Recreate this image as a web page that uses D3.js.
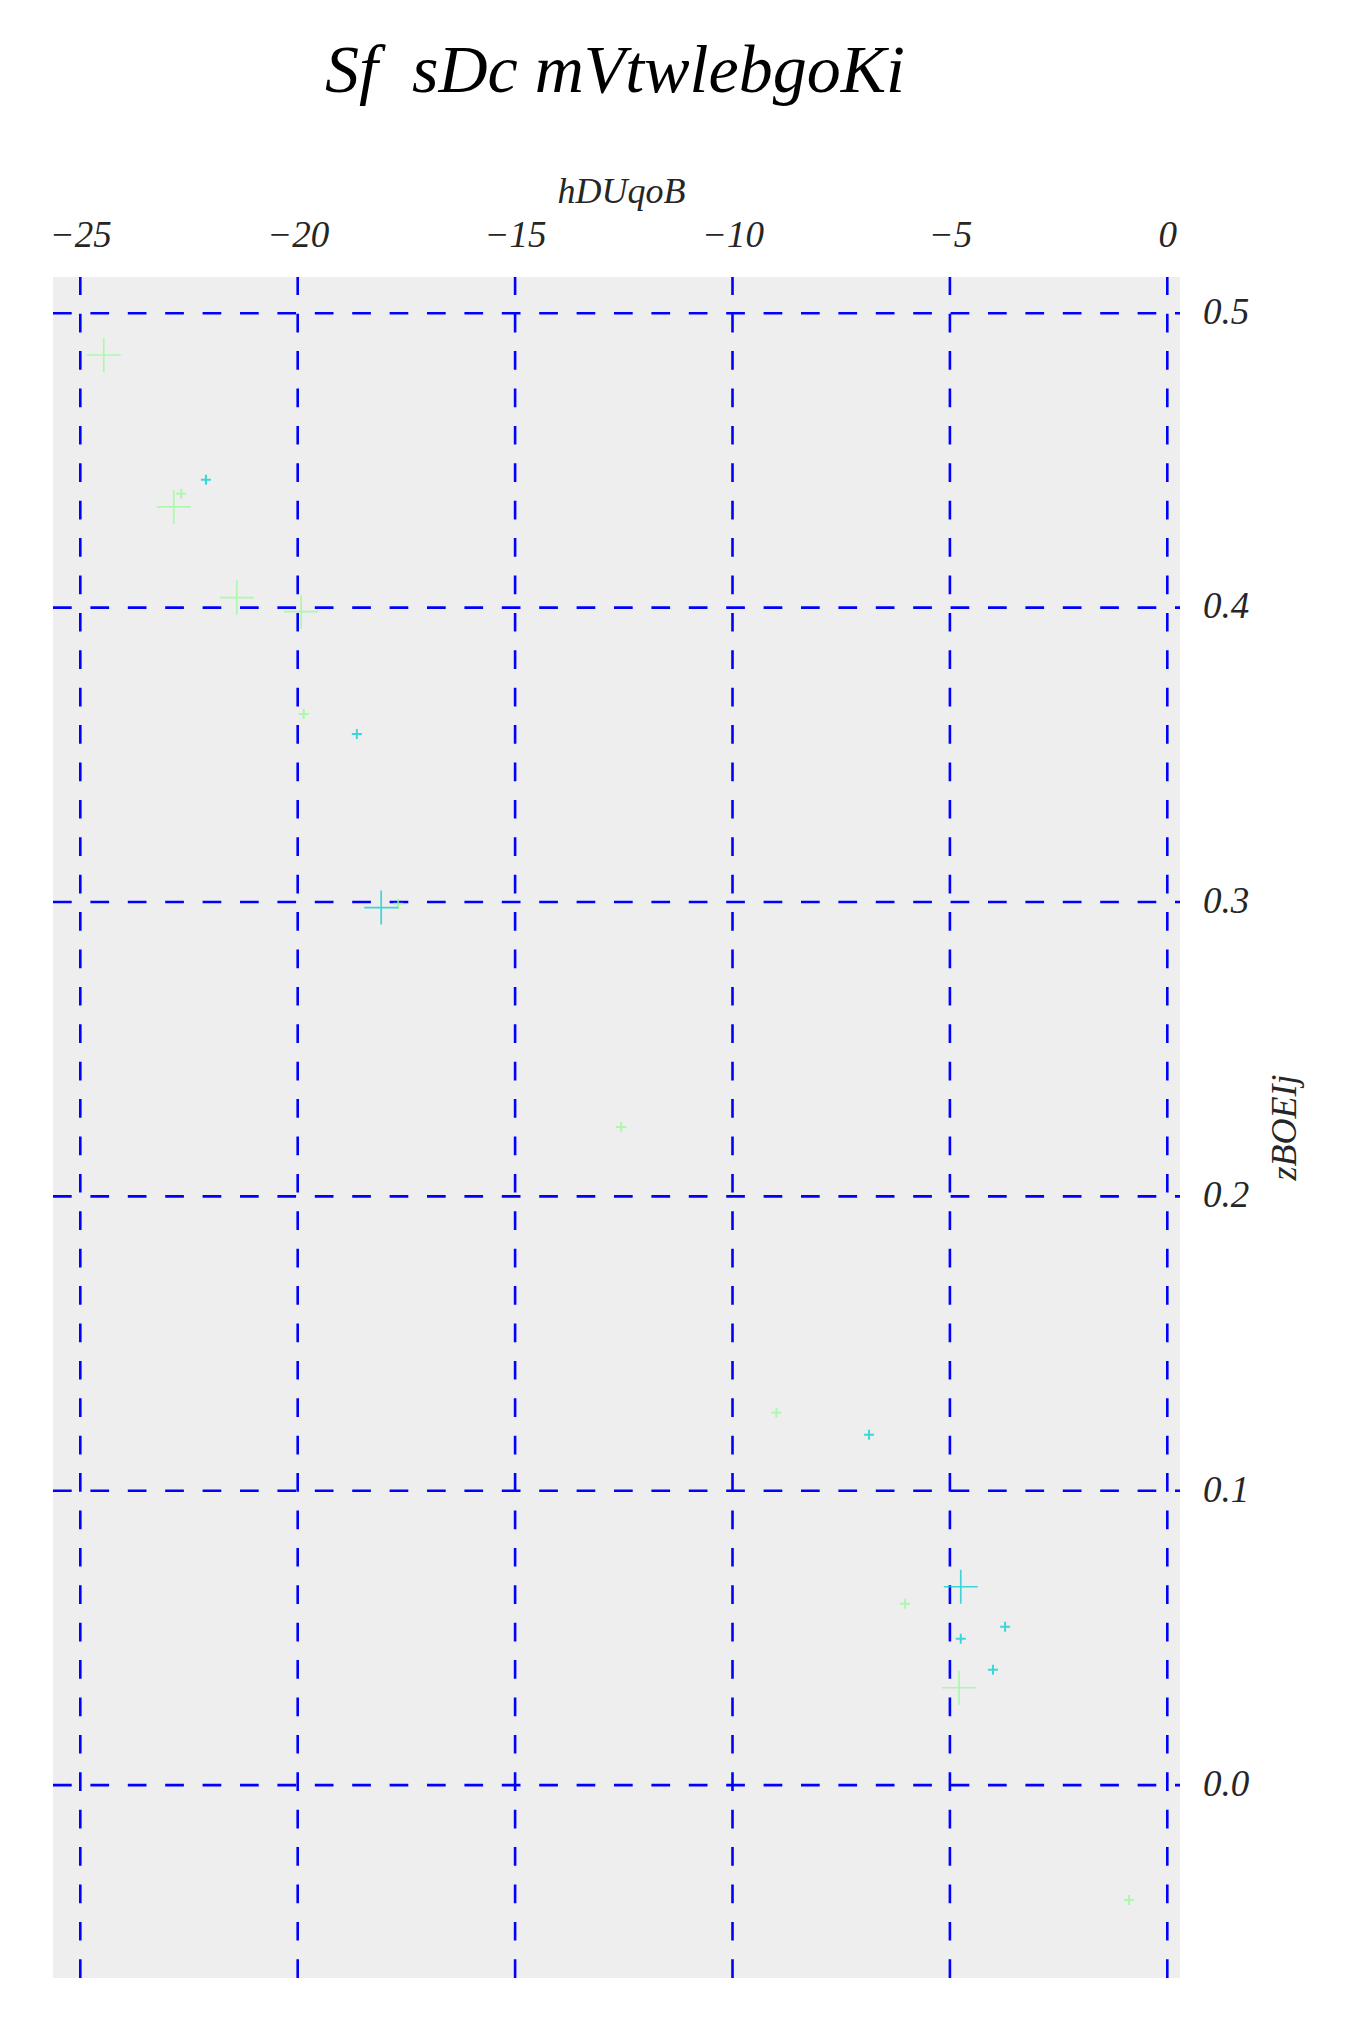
<!DOCTYPE html>
<html>
<head>
<meta charset="utf-8">
<script src="https://cdn.jsdelivr.net/npm/d3@7"></script>
<style>
  html, body { margin: 0; padding: 0; background: #ffffff; }
  svg { display: block; }
  text { font-family: "Liberation Serif", "Times New Roman", serif; font-style: italic; fill: #262626; }
</style>
</head>
<body>
<svg id="chart" width="1350" height="2025"></svg>
<script>
// ---- data ----
const titleText = "Sf  sDc mVtwlebgoKi";
const xLabel = "hDUqoB";
const yLabel = "zBOEIj";

const xTicks = [-25, -20, -15, -10, -5, 0];
const yTicks = [0.0, 0.1, 0.2, 0.3, 0.4, 0.5];

// series A (light green)
const greenX = [-24.46, -22.68, -22.85, -21.40, -19.92, -19.86, -17.69, -12.56, -8.99, -6.03, -4.79, -0.88];
const greenY = [0.4858, 0.4387, 0.4342, 0.4034, 0.3986, 0.3639, 0.2994, 0.2236, 0.1265, 0.0616, 0.0331, -0.0390];
const greenSize = ["large", "small", "large", "large", "large", "small", "small", "small", "small", "small", "large", "small"];

// series B (turquoise)
const cyanX = [-22.11, -18.64, -18.08, -6.86, -4.75, -3.73, -4.75, -4.01];
const cyanY = [0.4434, 0.3571, 0.2981, 0.1190, 0.0674, 0.0538, 0.0497, 0.0392];
const cyanSize = ["small", "small", "large", "small", "large", "small", "small", "small"];

// ---- layout ----
const svg = d3.select("#chart");
const pLeft = 53, pRight = 1180, pTop = 277, pBottom = 1978;

const x = d3.scaleLinear().domain([-25.628, 0.292]).range([pLeft, pRight]);
const y = d3.scaleLinear().domain([-0.0655, 0.5123]).range([pBottom, pTop]);
const markSize = d3.scaleOrdinal().domain(["small", "large"]).range([10, 34]);

svg.append("rect").attr("width", 1350).attr("height", 2025).attr("fill", "#ffffff");
svg.append("rect")
  .attr("x", pLeft).attr("y", pTop)
  .attr("width", pRight - pLeft).attr("height", pBottom - pTop)
  .attr("fill", "#eeeeee");

// gridlines
const grid = svg.append("g");
grid.selectAll("line.vx").data(xTicks).join("line")
  .attr("class", "vx")
  .attr("x1", d => x(d)).attr("x2", d => x(d))
  .attr("y1", pBottom).attr("y2", pTop)
  .attr("stroke", "#0000ff").attr("stroke-width", 2.6)
  .attr("stroke-dasharray", "18.7,18.7");
grid.selectAll("line.hy").data(yTicks).join("line")
  .attr("class", "hy")
  .attr("x1", pLeft).attr("x2", pRight)
  .attr("y1", d => y(d)).attr("y2", d => y(d))
  .attr("stroke", "#0000ff").attr("stroke-width", 2.6)
  .attr("stroke-dasharray", "18.7,18.7");

// axes (top x, right y) — labels only
const xAxis = d3.axisTop(x).tickValues(xTicks).tickSize(0).tickPadding(0).tickFormat(d3.format("d"));
const gx = svg.append("g").attr("transform", `translate(0,${pTop - 30})`).call(xAxis);
gx.select(".domain").remove();
gx.selectAll("text")
  .attr("font-family", "Liberation Serif, serif").attr("font-style", "italic")
  .attr("font-size", 37).attr("fill", "#262626").attr("dy", 0);

const yAxis = d3.axisRight(y).tickValues(yTicks).tickSize(0).tickPadding(0).tickFormat(d3.format(".1f"));
const gy = svg.append("g").attr("transform", `translate(${pRight + 23},0)`).call(yAxis);
gy.select(".domain").remove();
gy.selectAll("text")
  .attr("font-family", "Liberation Serif, serif").attr("font-style", "italic")
  .attr("font-size", 37).attr("fill", "#262626").attr("dy", "0.28em");

// markers
function plus(g, xs, ys, sizes, color) {
  const pts = xs.map((v, i) => ({ x: v, y: ys[i], s: sizes[i] }));
  g.selectAll("path").data(pts).join("path")
    .attr("d", d => {
      const h = markSize(d.s) / 2;
      const cx = x(d.x), cy = y(d.y);
      return `M${cx - h},${cy}H${cx + h}M${cx},${cy - h}V${cy + h}`;
    })
    .attr("fill", "none")
    .attr("stroke", color)
    .attr("stroke-opacity", 0.75)
    .attr("stroke-width", d => d.s === "large" ? 1.7 : 2);
}
plus(svg.append("g"), greenX, greenY, greenSize, "#98fb98");
plus(svg.append("g"), cyanX, cyanY, cyanSize, "#00ced1");

// title & axis labels
svg.append("text")
  .attr("x", 615).attr("y", 92)
  .attr("text-anchor", "middle")
  .attr("font-size", 68)
  .style("white-space", "pre")
  .style("fill", "#000000")
  .text(titleText);

svg.append("text")
  .attr("x", (pLeft + pRight) / 2 + 5).attr("y", 203)
  .attr("text-anchor", "middle")
  .attr("font-size", 36)
  .text(xLabel);

svg.append("text")
  .attr("transform", `translate(1296,${(pTop + pBottom) / 2}) rotate(-90)`)
  .attr("text-anchor", "middle")
  .attr("font-size", 36)
  .text(yLabel);
</script>
</body>
</html>
